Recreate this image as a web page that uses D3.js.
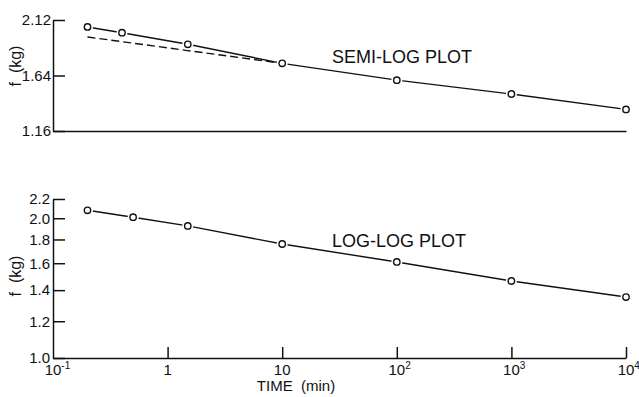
<!DOCTYPE html>
<html>
<head>
<meta charset="utf-8">
<script src="https://cdnjs.cloudflare.com/ajax/libs/d3/7.8.5/d3.min.js"></script>
<style>
  body { margin: 0; background: #fff; }
  svg { display: block; font-family: "Liberation Sans", Arial, sans-serif; }
  .axis path, .axis line { stroke: #111; stroke-width: 1.5; }
  .axis text { font-size: 15px; fill: #111; font-family: "Liberation Sans", Arial, sans-serif; }
</style>
</head>
<body>
<div id="container"></div>
<script>
// data
var timeTop = [0.2, 0.4, 1.5, 10, 100, 1000, 10000]; // min
var forceTop = [2.06, 2.01, 1.91, 1.745, 1.60, 1.48, 1.347]; // kg
var dashTime = [0.2, 10]; // extrapolated straight line (semi-log)
var dashForce = [1.973, 1.745];
var timeBottom = [0.2, 0.5, 1.5, 10, 100, 1000, 10000];
var forceBottom = [2.08, 2.01, 1.925, 1.76, 1.61, 1.465, 1.353];
var topTicks = [1.16, 1.64, 2.12];
var bottomTicks = [1.0, 1.2, 1.4, 1.6, 1.8, 2.0, 2.2];
var xTickVals = [0.1, 1, 10, 100, 1000, 10000];
var xTickBase = ["10", "1", "10", "10", "10", "10"];
var xTickSup = ["-1", "", "", "2", "3", "4"];

var width = 639, height = 397;

var svg = d3.select("#container")
    .append("svg")
    .attr("width", width)
    .attr("height", height);

var x = d3.scaleLog().domain([0.1, 10000]).range([53, 626]);
var yTop = d3.scaleLinear().domain([1.16, 2.12]).range([131, 20]);
var yBot = d3.scaleLog().domain([1.0, 2.2]).range([358, 199]);

// ---- top panel (semi-log) ----
svg.append("g")
    .attr("class", "axis")
    .attr("transform", "translate(53,0)")
    .call(d3.axisLeft(yTop)
        .tickValues(topTicks)
        .tickSizeInner(-12)
        .tickSizeOuter(0)
        .tickPadding(2)
        .tickFormat(d3.format(".2f")));

svg.append("g")
    .attr("class", "axis")
    .attr("transform", "translate(0,131)")
    .call(d3.axisBottom(x).tickValues([]).tickSizeOuter(0));

// ---- bottom panel (log-log) ----
svg.append("g")
    .attr("class", "axis")
    .attr("transform", "translate(53,0)")
    .call(d3.axisLeft(yBot)
        .tickValues(bottomTicks)
        .tickSizeInner(-12)
        .tickSizeOuter(0)
        .tickPadding(3)
        .tickFormat(d3.format(".1f")));

svg.append("g")
    .attr("class", "axis")
    .attr("transform", "translate(0,358)")
    .call(d3.axisBottom(x)
        .tickValues(xTickVals.slice(1))
        .tickSizeInner(-11)
        .tickSizeOuter(0)
        .tickFormat(""));

// x tick labels with superscripts
var xl = svg.append("g")
    .selectAll("text")
    .data(xTickVals)
    .enter()
    .append("text")
    .attr("y", 375)
    .attr("font-size", "15px")
    .attr("fill", "#111");

xl.each(function (d, i) {
    var t = d3.select(this);
    var w = xTickBase[i].length * 8.34;
    t.attr("x", x(d) - w / 2);
    t.append("tspan").text(xTickBase[i]);
    if (xTickSup[i]) {
        t.append("tspan")
            .attr("dy", -6)
            .attr("font-size", "10px")
            .text(xTickSup[i]);
    }
});

svg.append("text")
    .attr("x", 296)
    .attr("y", 391)
    .attr("text-anchor", "middle")
    .attr("font-size", "15px")
    .attr("fill", "#111")
    .style("white-space", "pre")
    .text("TIME  (min)");

// y titles
[[21, 66], [21, 276]].forEach(function (p) {
    svg.append("text")
        .attr("transform", "translate(" + p[0] + "," + p[1] + ") rotate(-90)")
        .attr("text-anchor", "middle")
        .attr("font-size", "16px")
        .attr("fill", "#111")
        .style("white-space", "pre")
        .text("f  (kg)");
});

// panel titles
svg.append("text")
    .attr("x", 332)
    .attr("y", 63)
    .attr("font-size", "18px")
    .attr("fill", "#111")
    .text("SEMI-LOG PLOT");

svg.append("text")
    .attr("x", 332)
    .attr("y", 247)
    .attr("font-size", "18px")
    .attr("fill", "#111")
    .text("LOG-LOG PLOT");

// ---- lines and points ----
var topPts = timeTop.map(function (t, i) { return [x(t), yTop(forceTop[i])]; });
var botPts = timeBottom.map(function (t, i) { return [x(t), yBot(forceBottom[i])]; });
var dashPts = dashTime.map(function (t, i) { return [x(t), yTop(dashForce[i])]; });

var line = d3.line();

svg.append("path")
    .attr("d", line(dashPts))
    .attr("fill", "none")
    .attr("stroke", "#111")
    .attr("stroke-width", 1.4)
    .attr("stroke-dasharray", "8,4");

[topPts, botPts].forEach(function (pts) {
    svg.append("path")
        .attr("d", line(pts))
        .attr("fill", "none")
        .attr("stroke", "#111")
        .attr("stroke-width", 1.4);

    // white halo to open a small gap round each marker
    svg.append("g").selectAll("circle")
        .data(pts)
        .enter()
        .append("circle")
        .attr("cx", function (d) { return d[0]; })
        .attr("cy", function (d) { return d[1]; })
        .attr("r", 5.5)
        .attr("fill", "#fff");

    svg.append("g").selectAll("circle")
        .data(pts)
        .enter()
        .append("circle")
        .attr("cx", function (d) { return d[0]; })
        .attr("cy", function (d) { return d[1]; })
        .attr("r", 3.2)
        .attr("fill", "#fff")
        .attr("stroke", "#111")
        .attr("stroke-width", 1.4);
});
</script>
</body>
</html>
